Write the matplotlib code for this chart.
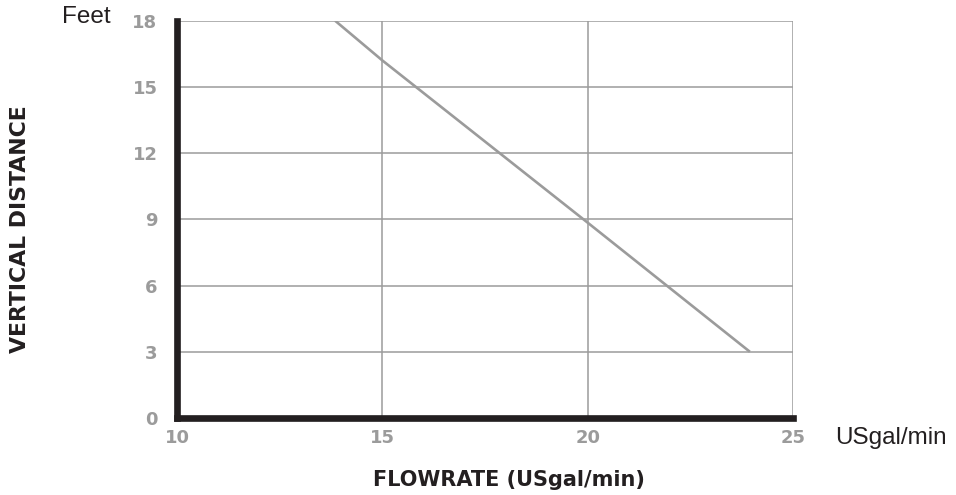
import matplotlib.pyplot as plt

# data
flow = [13.85, 15.0, 20.0, 23.95]      # USgal/min
height = [18.0, 16.2, 8.85, 3.0]       # feet

x_ticks = [10, 15, 20, 25]
y_ticks = [0, 3, 6, 9, 12, 15, 18]

GRAY = "#9b9b9b"
DARK = "#231f20"

fig = plt.figure(figsize=(9.56, 4.95), dpi=100)
ax = fig.add_axes([177 / 956, 77 / 495, (793 - 177) / 956, (418 - 20.7) / 495])

ax.plot(flow, height, color=GRAY, linewidth=1.9, solid_capstyle="butt")

ax.set_xlim(10, 25)
ax.set_ylim(0, 18)
ax.set_xticks(x_ticks)
ax.set_yticks(y_ticks)
ax.set_xticklabels([str(v) for v in x_ticks])
ax.set_yticklabels([str(v) for v in y_ticks])

ax.grid(True, color=GRAY, linewidth=1.1)
ax.set_axisbelow(True)

for s in ["top", "right"]:
    ax.spines[s].set_visible(False)
for s in ["left", "bottom"]:
    ax.spines[s].set_linewidth(4.8)
    ax.spines[s].set_color(DARK)
    ax.spines[s].set_capstyle("projecting")
    ax.spines[s].set_zorder(5)

ax.tick_params(length=0, colors=GRAY, labelsize=13)
ax.tick_params(axis="y", pad=14)
ax.tick_params(axis="x", pad=8)
for lab in ax.get_xticklabels() + ax.get_yticklabels():
    lab.set_fontweight("bold")
    lab.set_family("DejaVu Sans")

fig.text(62 / 956, 1 - 17 / 495, "Feet", fontsize=17.5, family="Liberation Sans",
         ha="left", va="center", color=DARK)
fig.text(835 / 956, 1 - 438 / 495, "USgal/min", fontsize=17.5, family="Liberation Sans",
         ha="left", va="center", color=DARK)

fig.text(509 / 956, 1 - 480 / 495, "FLOWRATE (USgal/min)", fontsize=15,
         fontweight="heavy", family="DejaVu Sans", ha="center", va="center", color=DARK)
fig.text(20 / 956, 1 - 229 / 495, "VERTICAL DISTANCE", fontsize=15.8, rotation=90,
         fontweight="heavy", family="DejaVu Sans", ha="center", va="center", color=DARK)

fig.savefig("out.png", dpi=100)
